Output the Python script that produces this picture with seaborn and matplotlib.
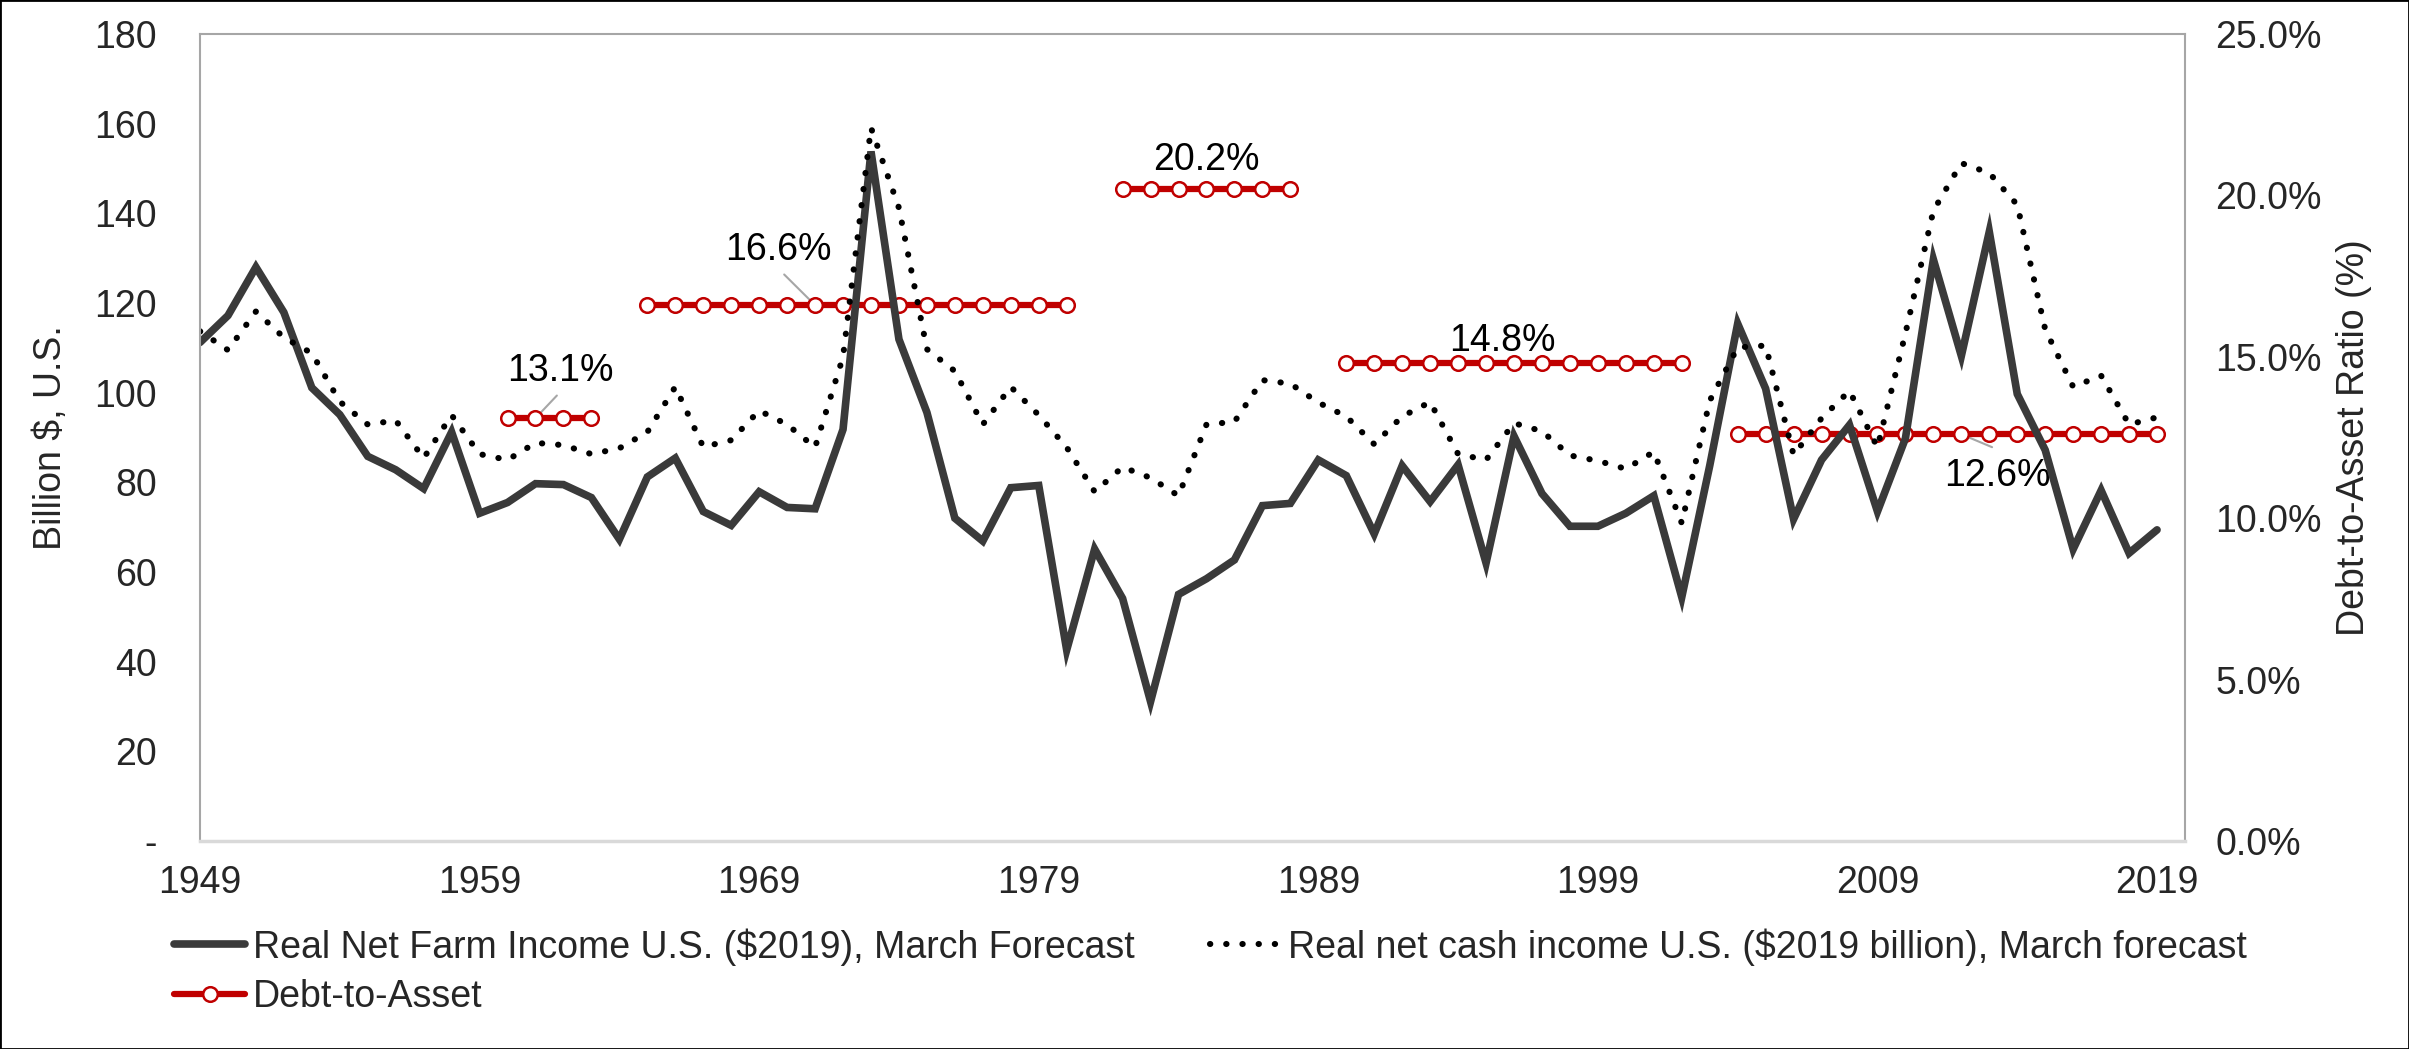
import numpy as np
import pandas as pd
import matplotlib
matplotlib.use("Agg")
import matplotlib.pyplot as plt
from matplotlib.lines import Line2D
from matplotlib.patches import Rectangle
from matplotlib.ticker import FuncFormatter, MultipleLocator
import seaborn as sns

# data
years = list(range(1949, 2020))

net_farm_income = [
    111.2, 117.2, 128.0, 117.9, 101.1, 95.1, 85.8, 82.8, 78.6, 91.2,
    73.1, 75.5, 79.7, 79.5, 76.6, 67.3, 81.2, 85.4, 73.5, 70.4,
    77.9, 74.4, 74.1, 91.8, 153.8, 111.9, 95.6, 72.0, 66.9, 78.8,
    79.3, 42.6, 65.1, 54.1, 31.1, 55.0, 58.5, 62.7, 74.8, 75.3,
    85.0, 81.5, 68.5, 83.7, 75.7, 83.9, 62.0, 90.3, 77.5, 70.2,
    70.2, 73.1, 77.0, 54.4, 83.7, 115.4, 100.9, 71.8, 85.0, 92.8,
    73.5, 89.8, 129.7, 108.2, 135.9, 99.7, 87.2, 65.1, 78.2, 64.2,
    69.4,
]

net_cash_income = [
    113.7, 109.5, 118.1, 112.3, 108.8, 98.0, 92.9, 93.8, 85.4, 95.0,
    86.3, 85.0, 88.8, 88.3, 86.3, 87.6, 91.2, 101.3, 87.9, 89.4,
    96.0, 92.9, 87.8, 108.0, 159.1, 141.2, 109.7, 104.8, 92.9, 101.3,
    95.0, 87.8, 77.9, 83.4, 81.0, 77.0, 92.9, 93.5, 102.8, 102.0,
    97.8, 94.7, 88.5, 94.7, 97.9, 86.3, 85.0, 93.2, 91.4, 86.0,
    84.8, 83.0, 86.8, 70.9, 98.2, 110.1, 110.5, 86.1, 94.3, 100.4,
    87.8, 113.2, 140.6, 151.2, 149.0, 141.9, 114.1, 101.3, 103.8, 92.9,
    94.5,
]

# debt-to-asset period averages (start year, end year, ratio %)
dta_start = [1960, 1965, 1982, 1990, 2004]
dta_end = [1963, 1980, 1988, 2002, 2019]
dta_value = [13.1, 16.6, 20.2, 14.8, 12.6]

# label positions (year, %) and the year each leader points to
label_x = [1961.9, 1969.7, 1985.0, 1995.6, 2013.3]
label_y = [14.55, 18.3, 21.1, 15.5, 11.3]
leader_to = [1961, 1971, None, 1996, 2012]

income_label = "Real Net Farm Income U.S. ($2019), March Forecast"
cash_label = "Real net cash income U.S. ($2019 billion), March forecast"
dta_label = "Debt-to-Asset"

DARK = "#3A3A3A"
RED = "#C00000"
DOTS = (0, (0.05, 2.6))

sns.set_style("white")
plt.rcParams['font.family'] = ['Liberation Sans', 'DejaVu Sans']
FS = 27

df = pd.DataFrame({"year": years, "income": net_farm_income, "cash": net_cash_income})

rows = []
for k, (a, b, v) in enumerate(zip(dta_start, dta_end, dta_value)):
    for yr in range(a, b + 1):
        rows.append({"year": yr, "dta": v, "seg": k})
dta = pd.DataFrame(rows)

fig = plt.figure(figsize=(24.09, 10.49), dpi=100)
fig.subplots_adjust(left=200 / 2409, right=2185 / 2409, top=1 - 34 / 1049, bottom=1 - 841 / 1049)
ax = fig.add_subplot(111)
ax2 = ax.twinx()

# primary axis lines drawn above the debt-to-asset line
ax.set_zorder(ax2.get_zorder() + 1)
ax.patch.set_visible(False)

sns.lineplot(data=df, x="year", y="income", ax=ax, color=DARK, lw=5.5,
             solid_joinstyle="miter", legend=False)
sns.lineplot(data=df, x="year", y="cash", ax=ax, color="black", lw=4.4,
             linestyle=DOTS, dash_capstyle="round", legend=False)

sns.lineplot(data=dta, x="year", y="dta", units="seg", estimator=None, ax=ax2,
             color=RED, lw=4.5, marker="o", markersize=10.5,
             markerfacecolor="white", markeredgecolor=RED, markeredgewidth=1.8,
             legend=False)

# data labels with leader lines
for tx, ty, v in zip(label_x, label_y, dta_value):
    ax2.text(tx, ty, f"{v}%", fontsize=FS, ha="center", va="center", color="black")
for tx, ty, v, lt in zip(label_x, label_y, dta_value, leader_to):
    if lt is None:
        continue
    if ty > v:
        y0 = ty - 0.75
        x0 = tx - (tx - lt) * 0.15
    else:
        y0 = ty + 0.9
        x0 = tx - 0.2
    ax2.plot([x0, lt], [y0, v], color="#A6A6A6", lw=1.5, zorder=1)

ax.set_xlim(1949, 2020)
ax.set_ylim(0, 180)
ax2.set_ylim(0, 25)
ax.set_xticks(list(range(1949, 2020, 10)))
ax.yaxis.set_major_locator(MultipleLocator(20))
ax2.yaxis.set_major_locator(MultipleLocator(5))
ax.yaxis.set_major_formatter(FuncFormatter(lambda v, p: "-" if v == 0 else f"{v:.0f}"))
ax2.yaxis.set_major_formatter(FuncFormatter(lambda v, p: f"{v:.1f}%"))

ax.tick_params(axis="x", length=0, pad=17, labelsize=FS)
ax.tick_params(axis="y", length=0, pad=31, labelsize=FS)
ax2.tick_params(axis="y", length=0, pad=22, labelsize=FS)

ax.set_xlabel("")
ax.set_ylabel("Billion $, U.S.", fontsize=FS)
ax2.set_ylabel("Debt-to-Asset Ratio (%)", fontsize=FS)
ax.yaxis.set_label_coords(-0.066, 0.5)
ax2.yaxis.set_label_coords(1.076, 0.5)

for s in ["left", "right", "top"]:
    ax.spines[s].set_color("#A6A6A6")
    ax.spines[s].set_linewidth(1.5)
ax.spines["bottom"].set_color("#D9D9D9")
ax.spines["bottom"].set_linewidth(2.5)
for s in ax2.spines.values():
    s.set_visible(False)
ax.grid(False)
ax2.grid(False)

handles = [
    Line2D([], [], color=DARK, lw=5.5),
    Line2D([], [], color=RED, lw=4.5, marker="o", markersize=10.5,
           markerfacecolor="white", markeredgecolor=RED, markeredgewidth=1.8),
    Line2D([], [], color="black", lw=4.4, linestyle=DOTS, dash_capstyle="round"),
]
labels = [income_label, dta_label, cash_label]
fig.legend(handles, labels, loc="upper left", bbox_to_anchor=(174 / 2409, 1 - 928 / 1049),
           ncol=2, frameon=False, fontsize=FS, handlelength=1.9, handletextpad=0.2,
           columnspacing=2.0, labelspacing=0.35, borderpad=0, borderaxespad=0)

fig.patches.append(Rectangle((0, 0), 1, 1, transform=fig.transFigure, fill=False,
                             edgecolor="black", lw=2))

fig.savefig("out.png", dpi=100)
